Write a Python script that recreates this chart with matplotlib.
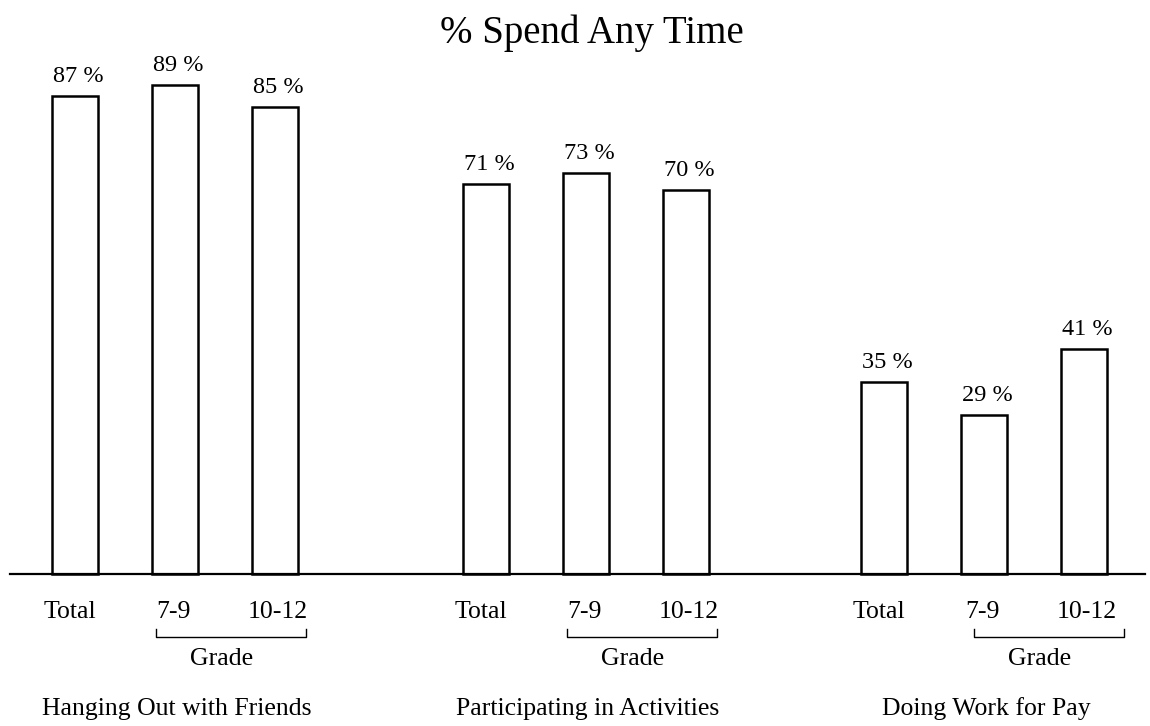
import numpy as np
import matplotlib.pyplot as plt

plt.rcParams['font.family'] = ['Liberation Serif', 'DejaVu Serif']

# data
groups = ['Hanging Out with Friends', 'Participating in Activities', 'Doing Work for Pay']
bars = ['Total', '7-9', '10-12']
values = [[87, 89, 85],
          [71, 73, 70],
          [35, 29, 41]]

# layout in pixel-like units
group_start = [75, 486, 884]
bracket_shift = [0, 0, 9]
bar_step = 100
bar_w = 46
px_per_pct = 5.49
label_dx = [-5, -2, 3]

fig = plt.figure(figsize=(11.5, 7.26), dpi=100)
ax = fig.add_axes([0, 0, 1, 1])
ax.set_xlim(0, 1150)
ax.set_ylim(-152 / px_per_pct, 574 / px_per_pct)
ax.axis('off')

def px(n):
    # vertical pixels -> data units
    return n / px_per_pct

for i, g in enumerate(groups):
    xs = [group_start[i] + j * bar_step for j in range(len(bars))]
    ax.bar(xs, values[i], width=bar_w, facecolor='white', edgecolor='black', linewidth=1.8, zorder=2)
    for j, (x, v, b) in enumerate(zip(xs, values[i], bars)):
        ax.text(x + 3, v + px(14), f'{v} %', ha='center', va='baseline', fontsize=17.5)
        ax.text(x + label_dx[j], -px(44), b, ha='center', va='baseline', fontsize=18.5)
    # grade bracket
    x0 = xs[1] - 19 + bracket_shift[i]
    x1 = xs[2] + 31 + bracket_shift[i]
    yb, yt = -px(63), -px(55)
    ax.plot([x0, x0, x1, x1], [yt, yb, yb, yt], color='black', linewidth=1.0)
    ax.text((x0 + x1) / 2 - 9, -px(91), 'Grade', ha='center', va='baseline', fontsize=18.5)
    ax.text(xs[1] + 2, -px(141), g, ha='center', va='baseline', fontsize=18.5)

ax.plot([10, 1145], [0, 0], color='black', linewidth=1.6, zorder=3)
ax.text(592, px(574 - 43), '% Spend Any Time', ha='center', va='baseline', fontsize=28)

fig.savefig('out.png', dpi=100)
